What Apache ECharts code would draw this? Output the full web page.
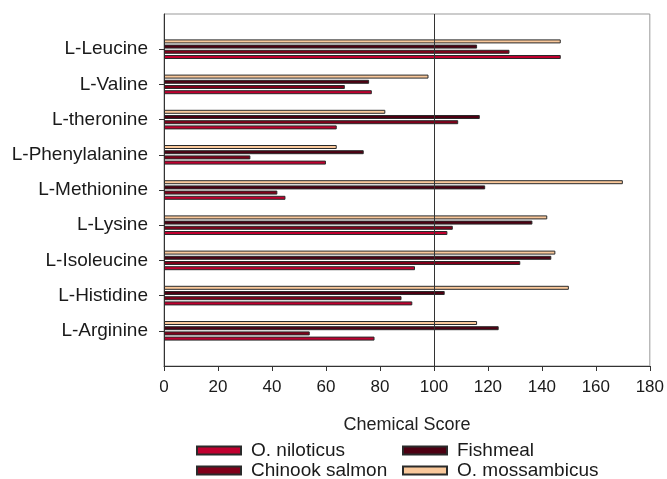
<!DOCTYPE html>
<html>
<head>
<meta charset="utf-8">
<script src="https://cdn.jsdelivr.net/npm/echarts@6/dist/echarts.min.js"></script>
<style>html,body{margin:0;padding:0;background:#fff;}#c{width:667px;height:479px;}</style>
</head>
<body>
<div id="c"></div>
<script>
var categories = ['L-Arginine','L-Histidine','L-Isoleucine','L-Lysine','L-Methionine','L-Phenylalanine','L-theronine','L-Valine','L-Leucine'];
var niloticus   = [78, 92, 93, 105, 45, 60, 64, 77, 147];
var chinook     = [54, 88, 132, 107, 42, 32, 109, 67, 128];
var fishmeal    = [124, 104, 143.5, 136.5, 119, 74, 117, 76, 116];
var mossambicus = [116, 150, 145, 142, 170, 64, 82, 98, 147];
var xTicks = [0, 20, 40, 60, 80, 100, 120, 140, 160, 180];
var seriesNames = ['O. niloticus', 'Chinook salmon', 'Fishmeal', 'O. mossambicus'];
var colors = ['#c0002f', '#80001a', '#4d0012', '#f9c89b'];

function pad(arr){ return [null].concat(arr).concat([null]); }
var yData = [''].concat(categories).concat(['']);
var values = [niloticus, chinook, fishmeal, mossambicus];

// drawn in reverse so that O. mossambicus sits on top of each group
var series = [];
for (var i = values.length - 1; i >= 0; i--) {
  var s = {
    name: seriesNames[i],
    type: 'bar',
    data: pad(values[i]),
    barWidth: 4,
    barGap: '30%',
    itemStyle: { color: colors[i], borderColor: '#2a2a2a', borderWidth: 1 },
    emphasis: { disabled: true },
    animation: false
  };
  if (i === 0) {
    s.markLine = {
      silent: true,
      symbol: 'none',
      label: { show: false },
      lineStyle: { color: '#333', width: 1, type: 'solid' },
      data: [{ xAxis: 100 }],
      animation: false
    };
  }
  series.push(s);
}

var legendText = { fontFamily: 'Liberation Sans, Arial, sans-serif', fontSize: 19, color: '#1a1a1a', padding: [0,0,0,5] };
var legendPos = [[196, 441], [196, 461], [402, 441], [402, 461]];
var legends = seriesNames.map(function(n, i){
  return { data: [n], left: legendPos[i][0], top: legendPos[i][1], itemWidth: 44, itemHeight: 8, textStyle: legendText, selectedMode: false, icon: 'rect', padding: 0 };
});

var chart = echarts.init(document.getElementById('c'), null, { renderer: 'canvas' });
chart.setOption({
  backgroundColor: '#fff',
  animation: false,
  grid: { left: 164, right: 15, top: 14, bottom: 113, show: true, borderColor: '#999', borderWidth: 1, backgroundColor: 'transparent' },
  legend: legends,
  xAxis: {
    type: 'value',
    min: xTicks[0],
    max: xTicks[xTicks.length - 1],
    interval: 20,
    name: 'Chemical Score',
    nameLocation: 'middle',
    nameGap: 50,
    nameTextStyle: { fontFamily: 'Liberation Sans, Arial, sans-serif', fontSize: 18, color: '#222' },
    axisLine: { show: true, lineStyle: { color: '#333', width: 1 } },
    axisTick: { show: true, length: 5, lineStyle: { color: '#333' } },
    axisLabel: { margin: 13, fontFamily: 'Liberation Sans, Arial, sans-serif', fontSize: 17, color: '#1a1a1a' },
    splitLine: { show: false }
  },
  yAxis: {
    type: 'category',
    data: yData,
    boundaryGap: false,
    axisLine: { show: true, lineStyle: { color: '#333', width: 1 } },
    axisTick: { show: true, length: 5, lineStyle: { color: '#333' }, interval: function(i, v){ return v !== ''; } },
    axisLabel: { interval: 0, margin: 16, fontFamily: 'Liberation Sans, Arial, sans-serif', fontSize: 19, color: '#1a1a1a' },
    splitLine: { show: false }
  },
  series: series
});
</script>
</body>
</html>
